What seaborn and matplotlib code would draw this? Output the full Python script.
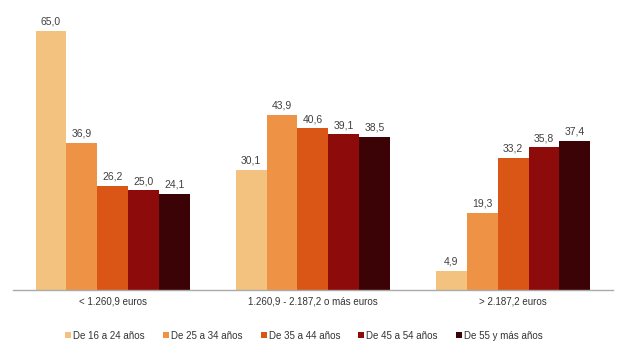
import matplotlib
matplotlib.use('Agg')
import matplotlib.pyplot as plt
from matplotlib.lines import Line2D
import seaborn as sns
import pandas as pd

categories = ['< 1.260,9 euros', '1.260,9 - 2.187,2 o más euros', '> 2.187,2 euros']
age_groups = ['De 16 a 24 años', 'De 25 a 34 años', 'De 35 a 44 años',
              'De 45 a 54 años', 'De 55 y más años']
values = {
    'De 16 a 24 años': [65.0, 30.1, 4.9],
    'De 25 a 34 años': [36.9, 43.9, 19.3],
    'De 35 a 44 años': [26.2, 40.6, 33.2],
    'De 45 a 54 años': [25.0, 39.1, 35.8],
    'De 55 y más años': [24.1, 38.5, 37.4],
}
colors = ['#F4C27F', '#EE9345', '#DA5617', '#8D0C0B', '#3B0305']

rows = []
for g in age_groups:
    for c, v in zip(categories, values[g]):
        rows.append({'cat': c, 'age': g, 'val': v})
df = pd.DataFrame(rows)

sns.set_style('white')
plt.rcParams['font.family'] = ['Liberation Sans', 'DejaVu Sans']

fig = plt.figure(figsize=(6.4, 3.55), dpi=100)
ax = fig.add_axes([0.02, 0.183, 0.938, 0.786])
sns.barplot(data=df, x='cat', y='val', hue='age', hue_order=age_groups,
            order=categories, palette=colors, width=0.773, gap=0,
            saturation=1, ax=ax, legend=False, linewidth=0, edgecolor='none')

for cont in ax.containers:
    ax.bar_label(cont, labels=[f'{b.get_height():.1f}'.replace('.', ',') for b in cont],
                 padding=3, fontsize=7.5, color='#404040')

ax.set_xlim(-0.5, 2.5)
ax.set_ylim(0, 70)
ax.set_xlabel('')
ax.set_ylabel('')
ax.set_yticks([])
ax.tick_params(axis='x', length=0, labelsize=7, colors='#333333', pad=5)
for s in ['top', 'right', 'left']:
    ax.spines[s].set_visible(False)
ax.spines['bottom'].set_color('#AAAAAA')
ax.spines['bottom'].set_linewidth(1)

# square legend markers like the original
handles = [Line2D([], [], marker='s', linestyle='none', markersize=4,
                  markerfacecolor=c, markeredgewidth=0) for c in colors]
fig.legend(handles, age_groups, loc='center', bbox_to_anchor=(0.475, 0.054), ncol=5,
           frameon=False, fontsize=7, handlelength=0.6, handletextpad=0.2,
           columnspacing=1.9, labelcolor='#333333')

fig.savefig('out.png', dpi=100)
